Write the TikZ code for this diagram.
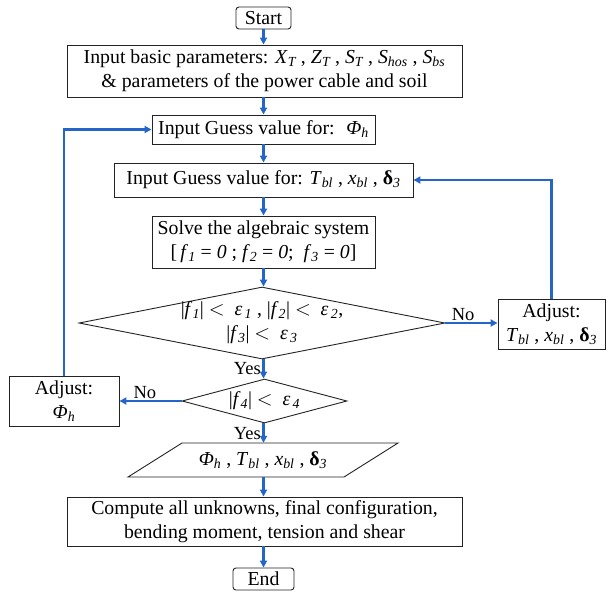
\documentclass[tikz,border=0pt]{standalone}
\usepackage{fontspec}
\usepackage{amsmath}
\setmainfont{Liberation Serif}
\usetikzlibrary{shapes.geometric,arrows.meta}
\definecolor{flowblue}{RGB}{36,102,200}
\definecolor{boxline}{RGB}{35,35,35}
\newcommand{\varsub}[2]{\textit{#1}\ensuremath{_{\textit{#2}}}}
\newcommand{\bdelta}{\textbf{δ}\ensuremath{_{\textit{3}}}}
\begin{document}
\begin{tikzpicture}[x=1pt,y=-1pt,
  font=\fontsize{19.8}{24}\selectfont,
  box/.style={draw=boxline, line width=0.9pt, align=center, inner sep=0pt},
  term/.style={box, rounded corners=3pt},
  arr/.style={draw=flowblue, line width=2.2pt, -{Triangle[length=7pt,width=7pt]}},
  lbl/.style={font=\fontsize{18.5}{20}\selectfont, inner sep=1.5pt}]
\useasboundingbox (0,0) rectangle (609,592);

\node[term, minimum width=55pt, minimum height=22pt] (start) at (263.5,18) {Start};
\node[box, minimum width=395pt, minimum height=52pt] (basic) at (264.5,71)
  {Input basic parameters: \varsub{X}{T} , \varsub{Z}{T} , \varsub{S}{T} , \varsub{S}{hos} , \varsub{S}{bs}\\
   \& parameters of the power cable and soil};
\node[box, minimum width=223pt, minimum height=29pt] (gphi) at (263.5,129.5)
  {Input Guess value for: \ \varsub{Φ}{h}};
\node[box, minimum width=299pt, minimum height=34pt] (gT) at (263.5,180)
  {Input Guess value for: \varsub{T}{bl} , \varsub{x}{bl} , \bdelta};
\node[box, minimum width=223pt, minimum height=52pt] (solve) at (263.5,242)
  {Solve the algebraic system\\\relax
   {[}\,\varsub{f}{1} = \textit{0} ; \varsub{f}{2} = \textit{0}; \ \varsub{f}{3} = \textit{0}{]}};
\node[box, diamond, aspect=5.08, minimum width=366pt, minimum height=72pt,
  label={[align=center, font=\fontsize{19.8}{24}\selectfont]center:{%
  |\varsub{f}{1}| $<$ \ \varsub{ε}{\,1} , |\varsub{f}{2}| $<$ \ \varsub{ε}{\,2},\\
  |\varsub{f}{3}| $<$ \ \varsub{ε}{\,3}}}] (d1) at (262,323) {};
\node[box, minimum width=107pt, minimum height=50pt] (adjR) at (551.5,324)
  {Adjust:\\ \varsub{T}{bl} , \varsub{x}{bl} , \bdelta};
\node[box, diamond, aspect=3.75, minimum width=165pt, minimum height=44pt,
  label={center:{|\varsub{f}{4}| $<$ \ \varsub{ε}{\,4}}}] (d2) at (264.5,401) {};
\node[box, minimum width=110pt, minimum height=50pt] (adjL) at (64,401)
  {Adjust:\\ \varsub{Φ}{h}};
\draw[draw=boxline, line width=0.9pt] (128,477) -- (182,443) -- (398,443) -- (344,477) -- cycle;
\node[inner sep=0pt, minimum width=216pt, minimum height=34pt] (para) at (263,460)
  {\varsub{Φ}{h} , \varsub{T}{bl} , \varsub{x}{bl} , \bdelta};
\node[box, minimum width=395pt, minimum height=49pt] (comp) at (264.5,521.5)
  {Compute all unknowns, final configuration,\\ bending moment, tension and shear};
\node[term, minimum width=61pt, minimum height=22pt] (end) at (263.5,579) {End};

\draw[arr] (start.south) -- (start.south |- basic.north);
\draw[arr] (start.south |- basic.south) -- (start.south |- gphi.north);
\draw[arr] (start.south |- gphi.south) -- (start.south |- gT.north);
\draw[arr] (start.south |- gT.south) -- (start.south |- solve.north);
\draw[arr] (start.south |- solve.south) -- (start.south |- d1.north);
\draw[arr] (start.south |- d1.south) -- node[lbl, left]{Yes} (start.south |- d2.north);
\draw[arr] (start.south |- d2.south) -- node[lbl, left]{Yes} (start.south |- para.north);
\draw[arr] (start.south |- para.south) -- (start.south |- comp.north);
\draw[arr] (start.south |- comp.south) -- (start.south |- end.north);
\draw[arr] (d1.east) -- node[lbl, above, pos=0.34]{No} (d1.east -| adjR.west);
\draw[arr] (d2.west) -- node[lbl, above, pos=0.59]{No} (d2.west -| adjL.east);
\draw[arr] (adjR.north) |- (gT.east);
\draw[arr] (adjL.north) |- (gphi.west);
\end{tikzpicture}
\end{document}
